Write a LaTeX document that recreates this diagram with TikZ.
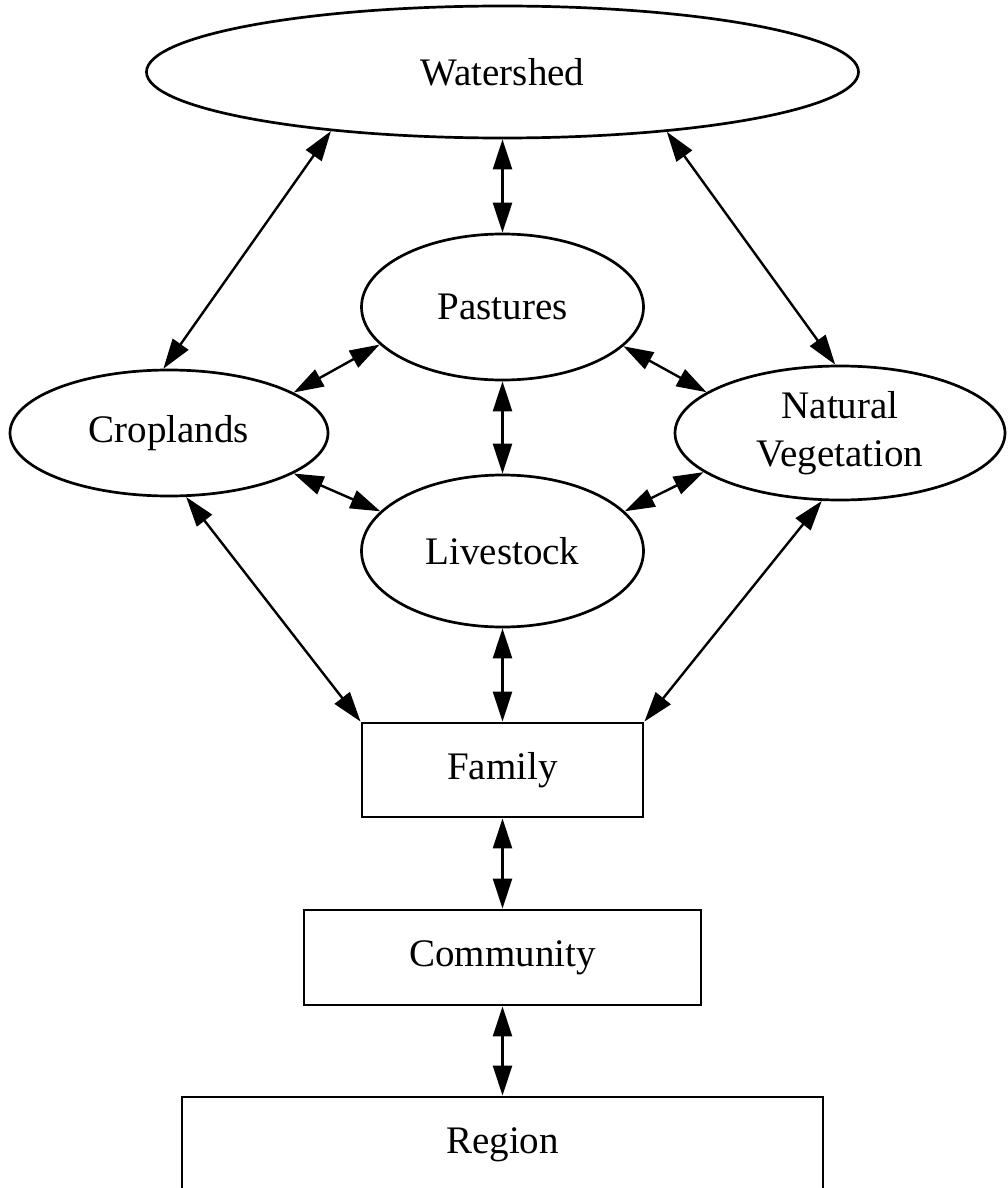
\documentclass[tikz,border=0pt]{standalone}
\usepackage{fontspec}
\setmainfont{Liberation Serif}
\usetikzlibrary{arrows.meta,shapes.geometric}
\begin{document}
\begin{tikzpicture}[x=1pt,y=-1pt,
  every node/.style={font=\fontsize{39}{48}\selectfont, inner sep=0pt, align=center},
  oval/.style={ellipse, draw, line width=2.7pt},
  panel/.style={rectangle, draw, line width=2.9pt},
  link/.style={>={Triangle[length=30pt,width=19pt]}, <->, line width=2.4pt}
]
\useasboundingbox (0,0) rectangle (1007,1188);
\clip (0,0) rectangle (1007,1188);
\fill[white] (0,0) rectangle (1007,1188);

% ecological units
\node[oval, minimum width=712pt, minimum height=132pt] (ws)   at (502.5,72)  {Watershed};
\node[oval, minimum width=282pt, minimum height=146pt] (past) at (502.5,307) {Pastures};
\node[oval, minimum width=318pt, minimum height=126pt] (crop) at (169,433)   {Croplands};
\node[oval, minimum width=330pt, minimum height=134pt] (veg)  at (840,433)   {Natural\\Vegetation};
\node[oval, minimum width=282pt, minimum height=152pt] (live) at (502.5,551) {Livestock};

% social units
\node[panel, minimum width=281pt, minimum height=94pt] (fam) at (502.5,770)  {Family};
\node[panel, minimum width=397pt, minimum height=95pt] (com) at (502.5,957.5) {Community};
\node[panel, minimum width=641pt, minimum height=96pt] (reg) at (502.5,1145) {Region};

% two-way links
\draw[link] (ws.199) -- (crop.95);
\draw[link] (ws.south) -- (past.north);
\draw[link] (ws.340) -- (veg.94);
\draw[link] (past.197) -- (crop.18);
\draw[link] (past.342) -- (veg.163.5);
\draw[link] (past.south) -- (live.north);
\draw[link] (crop.342) -- (live.162);
\draw[link] (live.18) -- (veg.196.5);
\draw[link] (crop.285) -- (fam.north west);
\draw[link] (live.south) -- (fam.north);
\draw[link] (veg.255) -- (fam.north east);
\draw[link] (fam.south) -- (com.north);
\draw[link] (com.south) -- (reg.north);
\end{tikzpicture}
\end{document}
